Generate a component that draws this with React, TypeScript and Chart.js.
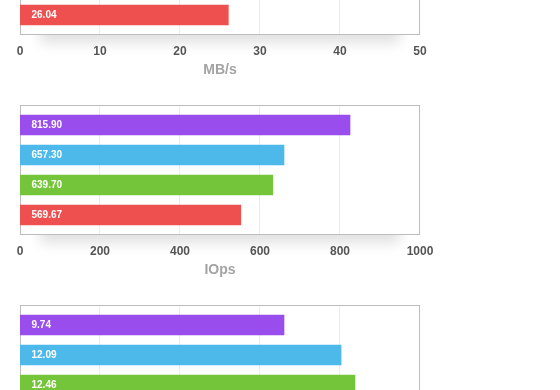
import React, { useEffect, useRef } from "react";
import { Chart, registerables } from "chart.js";

Chart.register(...registerables);

// ---- data ----
const categories = ["Run 1", "Run 2", "Run 3", "Run 4"];
const barColors = ["#994DEC", "#4DB9EA", "#75C53A", "#EE5050"];

const throughputValues: (number | null)[] = [null, null, null, 26.04];
const throughputLabels: (string | null)[] = [null, null, null, "26.04"];
const throughputTicks = [0, 10, 20, 30, 40, 50];
const throughputTitle = "MB/s";

const iopsValues: (number | null)[] = [825, 660, 632, 552];
const iopsLabels: (string | null)[] = ["815.90", "657.30", "639.70", "569.67"];
const iopsTicks = [0, 200, 400, 600, 800, 1000];
const iopsTitle = "IOps";

const thirdValues: (number | null)[] = [9.9, 12.04, 12.56, null];
const thirdLabels: (string | null)[] = ["9.74", "12.09", "12.46", null];
const thirdTicks = [0, 3, 6, 9, 12, 15];
const thirdTitle = "";

const FONT = "'Liberation Sans', Arial, Helvetica, sans-serif";

const framePlugin = {
  id: "frame",
  beforeDraw(chart: any) {
    const { ctx, chartArea: a, scales } = chart;
    const top = a.top - 4.5;
    const bottom = a.bottom + 4.5;
    ctx.save();
    ctx.shadowColor = "rgba(0,0,0,0.13)";
    ctx.shadowBlur = 14;
    ctx.shadowOffsetY = 8;
    ctx.fillStyle = "#fff";
    ctx.fillRect(a.left + 20, bottom - 20, a.width - 40, 20);
    ctx.restore();

    ctx.save();
    ctx.fillStyle = "#fff";
    ctx.fillRect(a.left, top, a.width, bottom - top);
    ctx.strokeStyle = "#ececec";
    ctx.lineWidth = 1;
    const ticks = scales.x.ticks;
    for (let i = 1; i < ticks.length - 1; i++) {
      const x = Math.round(scales.x.getPixelForValue(ticks[i].value)) - 0.5;
      ctx.beginPath();
      ctx.moveTo(x, top);
      ctx.lineTo(x, bottom);
      ctx.stroke();
    }
    ctx.strokeStyle = "#bdbdbd";
    ctx.strokeRect(a.left + 0.5, top, a.width - 1, bottom - top);
    ctx.restore();
  },
};

const barLabelPlugin = {
  id: "barLabels",
  afterDatasetsDraw(chart: any) {
    const { ctx } = chart;
    const labels: (string | null)[] = chart.options.plugins.barLabels.labels;
    const meta = chart.getDatasetMeta(0);
    ctx.save();
    ctx.fillStyle = "#ffffff";
    ctx.font = `bold 10px ${FONT}`;
    ctx.textAlign = "left";
    ctx.textBaseline = "middle";
    meta.data.forEach((el: any, i: number) => {
      const t = labels[i];
      if (t == null) return;
      ctx.fillText(t, el.base + 11.5, el.y);
    });
    ctx.restore();
  },
};

function BarPanel(props: {
  top: number;
  values: (number | null)[];
  labels: (string | null)[];
  ticks: number[];
  title: string;
}) {
  const ref = useRef<HTMLCanvasElement>(null);
  useEffect(() => {
    const { values, labels, ticks, title } = props;
    const chart = new Chart(ref.current as HTMLCanvasElement, {
      type: "bar",
      data: {
        labels: categories,
        datasets: [
          {
            data: values as any,
            backgroundColor: barColors,
            borderWidth: 0,
            barThickness: 20,
          },
        ],
      },
      plugins: [framePlugin, barLabelPlugin],
      options: {
        indexAxis: "y",
        animation: false,
        responsive: false,
        maintainAspectRatio: false,
        layout: { padding: { left: 20, right: 140, top: 10, bottom: 0 } },
        plugins: {
          legend: { display: false },
          tooltip: { enabled: false },
          barLabels: { labels },
        } as any,
        scales: {
          y: { display: false },
          x: {
            min: ticks[0],
            max: ticks[ticks.length - 1],
            grid: { display: false, drawTicks: false },
            border: { display: false },
            ticks: {
              stepSize: ticks[1] - ticks[0],
              padding: 14,
              color: "#555",
              font: { family: FONT, size: 12, weight: "bold" },
              maxRotation: 0,
              callback: (v: any) => String(v),
            },
            title: {
              display: title !== "",
              text: title,
              color: "#a3a3a3",
              font: { family: FONT, size: 14, weight: "bold" },
              padding: { top: 0, bottom: 21 },
            },
            afterFit: (scale: any) => {
              scale.height = 70;
            },
          },
        },
      },
    });
    return () => chart.destroy();
  }, []);
  return (
    <canvas
      ref={ref}
      width={560}
      height={200}
      style={{ position: "absolute", left: 0, top: props.top, display: "block" }}
    />
  );
}

export default function App() {
  return (
    <div
      style={{
        position: "fixed",
        left: 0,
        top: 0,
        width: 560,
        height: 390,
        overflow: "hidden",
        background: "#fff",
      }}
    >
      <BarPanel top={-100} values={throughputValues} labels={throughputLabels} ticks={throughputTicks} title={throughputTitle} />
      <BarPanel top={100} values={iopsValues} labels={iopsLabels} ticks={iopsTicks} title={iopsTitle} />
      <BarPanel top={300} values={thirdValues} labels={thirdLabels} ticks={thirdTicks} title={thirdTitle} />
    </div>
  );
}
